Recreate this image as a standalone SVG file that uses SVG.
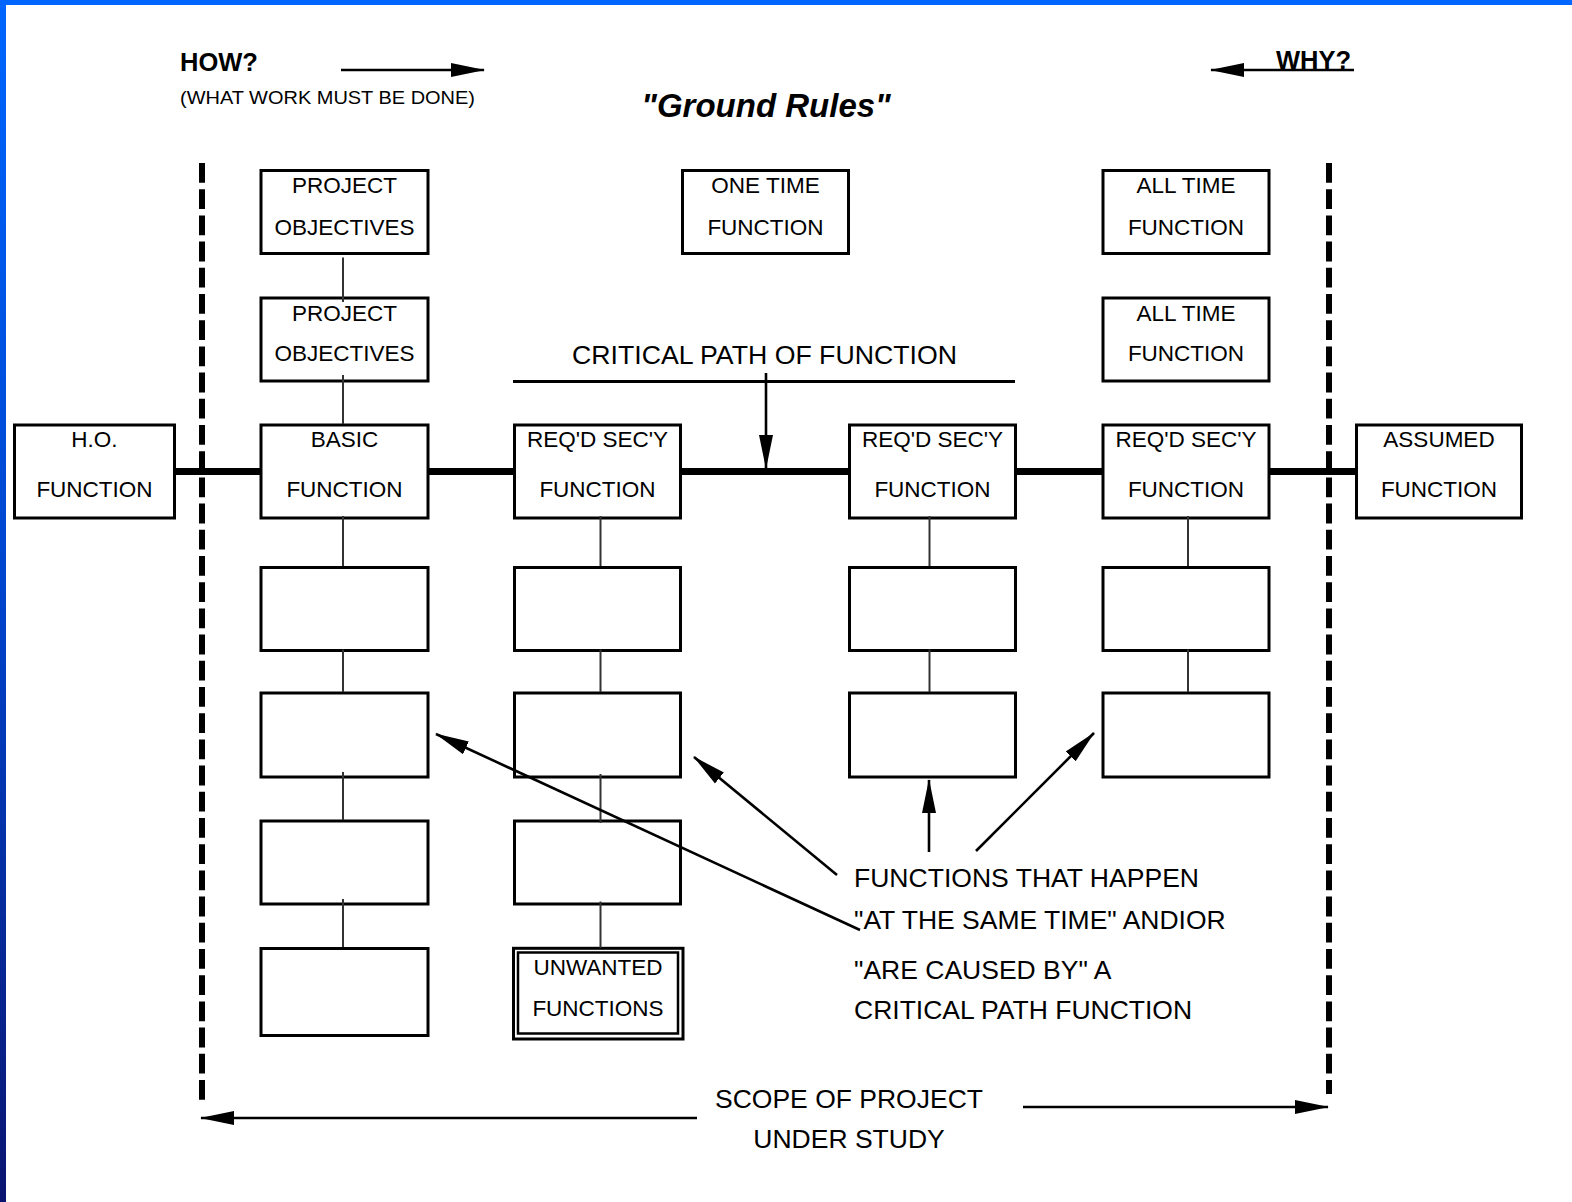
<svg xmlns="http://www.w3.org/2000/svg" width="1572" height="1202" viewBox="0 0 1572 1202">
<defs>
<linearGradient id="lb" x1="0" y1="0" x2="0" y2="1">
<stop offset="0" stop-color="#0066ff"/>
<stop offset="0.5" stop-color="#0044cc"/>
<stop offset="1" stop-color="#0a1470"/>
</linearGradient>
<marker id="ah" markerUnits="userSpaceOnUse" markerWidth="34" markerHeight="16" viewBox="0 -8 34 16" refX="33" refY="0" orient="auto">
<path d="M0,-7 L34,0 L0,7 z" fill="#000"/>
</marker>
</defs>
<style>
text{font-family:"Liberation Sans",Arial,sans-serif;fill:#000}
.bx{fill:#fff;stroke:#000;stroke-width:3}
.bt{font-size:22.5px;text-anchor:middle}
.lbl{font-size:26.5px}
.thin{stroke:#333;stroke-width:2;fill:none}
.arr{stroke:#000;stroke-width:2.6;fill:none;marker-end:url(#ah)}
.crit{stroke:#000;stroke-width:7}
.dash{stroke:#000;stroke-width:6;stroke-dasharray:19.8 6.4}
</style>
<rect x="0" y="0" width="1572" height="1202" fill="#fff"/>
<rect x="0" y="0" width="1572" height="5" fill="#0066ff"/>
<rect x="0" y="0" width="6" height="1202" fill="url(#lb)"/>

<g id="headings">
<text x="180" y="71" font-size="25.5" font-weight="bold">HOW?</text>
<text x="180" y="104" font-size="18.5" textLength="295" lengthAdjust="spacingAndGlyphs">(WHAT WORK MUST BE DONE)</text>
<text x="1276" y="69" font-size="25.5" font-weight="bold">WHY?</text>
<text x="766" y="116.5" font-size="33" font-weight="bold" font-style="italic" text-anchor="middle">"Ground Rules"</text>
<text x="572" y="363.5" class="lbl" textLength="385" lengthAdjust="spacingAndGlyphs">CRITICAL PATH OF FUNCTION</text>
<text x="854" y="887" class="lbl" textLength="345" lengthAdjust="spacingAndGlyphs">FUNCTIONS THAT HAPPEN</text>
<text x="854" y="929" class="lbl">"AT THE SAME TIME" ANDIOR</text>
<text x="854" y="978.5" class="lbl">"ARE CAUSED BY" A</text>
<text x="854" y="1019" class="lbl">CRITICAL PATH FUNCTION</text>
<text x="849" y="1107.5" class="lbl" text-anchor="middle">SCOPE OF PROJECT</text>
<text x="849" y="1148" class="lbl" text-anchor="middle">UNDER STUDY</text>
</g>

<g id="scope-lines">
<line class="dash" x1="202" y1="163" x2="202" y2="1100"/>
<line class="dash" x1="1329" y1="163" x2="1329" y2="1094"/>
</g>

<g id="critical-path-line">
<line class="crit" x1="175" y1="471.5" x2="262" y2="471.5"/>
<line class="crit" x1="428" y1="471.5" x2="515" y2="471.5"/>
<line class="crit" x1="681" y1="471.5" x2="849" y2="471.5"/>
<line class="crit" x1="1015" y1="471.5" x2="1103" y2="471.5"/>
<line class="crit" x1="1269" y1="471.5" x2="1357" y2="471.5"/>
</g>

<g id="n-proj-obj-1"><rect class="bx" x="261" y="170.5" width="167" height="83"/><text class="bt" x="344.5" y="193">PROJECT</text><text class="bt" x="344.5" y="234.5">OBJECTIVES</text></g>
<g id="n-one-time"><rect class="bx" x="682.5" y="170.5" width="166" height="83"/><text class="bt" x="765.5" y="193">ONE TIME</text><text class="bt" x="765.5" y="234.5">FUNCTION</text></g>
<g id="n-all-time-1"><rect class="bx" x="1103" y="170.5" width="166" height="83"/><text class="bt" x="1186" y="193">ALL TIME</text><text class="bt" x="1186" y="234.5">FUNCTION</text></g>
<g id="n-proj-obj-2"><rect class="bx" x="261" y="298" width="167" height="83"/><text class="bt" x="344.5" y="320.5">PROJECT</text><text class="bt" x="344.5" y="360.5">OBJECTIVES</text></g>
<g id="n-all-time-2"><rect class="bx" x="1103" y="298" width="166" height="83"/><text class="bt" x="1186" y="320.5">ALL TIME</text><text class="bt" x="1186" y="360.5">FUNCTION</text></g>

<g id="n-ho"><rect class="bx" x="14.5" y="425" width="160" height="93"/><text class="bt" x="94.5" y="447">H.O.</text><text class="bt" x="94.5" y="497">FUNCTION</text></g>
<g id="n-basic"><rect class="bx" x="261" y="425" width="167" height="93"/><text class="bt" x="344.5" y="447">BASIC</text><text class="bt" x="344.5" y="497">FUNCTION</text></g>
<g id="n-req-1"><rect class="bx" x="514.5" y="425" width="166" height="93"/><text class="bt" x="597.5" y="447">REQ'D SEC'Y</text><text class="bt" x="597.5" y="497">FUNCTION</text></g>
<g id="n-req-2"><rect class="bx" x="849.5" y="425" width="166" height="93"/><text class="bt" x="932.5" y="447">REQ'D SEC'Y</text><text class="bt" x="932.5" y="497">FUNCTION</text></g>
<g id="n-req-3"><rect class="bx" x="1103" y="425" width="166" height="93"/><text class="bt" x="1186" y="447">REQ'D SEC'Y</text><text class="bt" x="1186" y="497">FUNCTION</text></g>
<g id="n-assumed"><rect class="bx" x="1356.5" y="425" width="165" height="93"/><text class="bt" x="1439" y="447">ASSUMED</text><text class="bt" x="1439" y="497">FUNCTION</text></g>

<g id="n-c1-r3"><rect class="bx" x="261" y="567.5" width="167" height="83"/></g>
<g id="n-c2-r3"><rect class="bx" x="514.5" y="567.5" width="166" height="83"/></g>
<g id="n-c3-r3"><rect class="bx" x="849.5" y="567.5" width="166" height="83"/></g>
<g id="n-c4-r3"><rect class="bx" x="1103" y="567.5" width="166" height="83"/></g>

<g id="n-c1-r4"><rect class="bx" x="261" y="693" width="167" height="84"/></g>
<g id="n-c2-r4"><rect class="bx" x="514.5" y="693" width="166" height="84"/></g>
<g id="n-c3-r4"><rect class="bx" x="849.5" y="693" width="166" height="84"/></g>
<g id="n-c4-r4"><rect class="bx" x="1103" y="693" width="166" height="84"/></g>

<g id="n-c1-r5"><rect class="bx" x="261" y="821" width="167" height="83"/></g>
<g id="n-c2-r5"><rect class="bx" x="514.5" y="821" width="166" height="83"/></g>

<g id="n-c1-r6"><rect class="bx" x="261" y="948.5" width="167" height="87"/></g>
<g id="n-unwanted"><rect class="bx" x="513.5" y="948.3" width="169.5" height="90.7"/><rect x="518" y="952.5" width="160" height="81" fill="none" stroke="#000" stroke-width="2.5"/><text class="bt" x="598" y="975">UNWANTED</text><text class="bt" x="598" y="1015.5">FUNCTIONS</text></g>

<g id="connectors">
<line class="thin" x1="343" y1="257.5" x2="343" y2="302"/>
<line class="thin" x1="343" y1="375" x2="343" y2="424"/>
<line class="thin" x1="343" y1="516" x2="343" y2="566"/>
<line class="thin" x1="343" y1="649.5" x2="343" y2="692"/>
<line class="thin" x1="343" y1="772" x2="343" y2="820"/>
<line class="thin" x1="343" y1="899" x2="343" y2="947"/>
<line class="thin" x1="600.5" y1="516" x2="600.5" y2="566"/>
<line class="thin" x1="600.5" y1="649.5" x2="600.5" y2="692"/>
<line class="thin" x1="600.5" y1="774" x2="600.5" y2="823"/>
<line class="thin" x1="600.5" y1="901.5" x2="600.5" y2="948"/>
<line class="thin" x1="929.5" y1="516" x2="929.5" y2="566"/>
<line class="thin" x1="929.5" y1="649.5" x2="929.5" y2="692"/>
<line class="thin" x1="1188" y1="516" x2="1188" y2="566"/>
<line class="thin" x1="1188" y1="649.5" x2="1188" y2="692"/>
<line stroke="#000" stroke-width="3" x1="513" y1="381.5" x2="1015" y2="381.5"/>
<line class="arr" x1="341" y1="70" x2="484" y2="70"/>
<line class="arr" x1="1354" y1="70" x2="1211" y2="70"/>
<line class="arr" x1="766" y1="373" x2="766" y2="468"/>
<line class="arr" x1="837" y1="875" x2="694" y2="757"/>
<line class="arr" x1="929" y1="852" x2="929" y2="780"/>
<line class="arr" x1="976" y1="851" x2="1094" y2="733"/>
<line class="arr" x1="860" y1="930" x2="436" y2="734"/>
<line class="arr" x1="697" y1="1118" x2="201" y2="1118"/>
<line class="arr" x1="1023" y1="1107" x2="1328" y2="1107"/>
</g>
</svg>
